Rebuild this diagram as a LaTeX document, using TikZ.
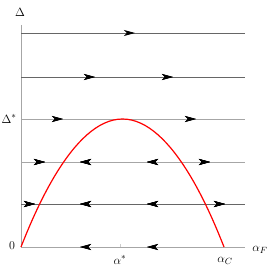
\documentclass[tikz,border=0pt]{standalone}
\usetikzlibrary{arrows.meta,decorations.markings}
\begin{document}
\begin{tikzpicture}[x=1pt,y=-1pt,
  flow/.style={line width=0.9pt},
  tipR/.style={decoration={markings,mark=at position #1 with {\arrow[black]{Stealth[length=11pt,width=6pt,inset=3pt]}}},postaction={decorate}},
  tipL/.style={decoration={markings,mark=at position #1 with {\arrowreversed[black]{Stealth[length=11pt,width=6pt,inset=3pt]}}},postaction={decorate}},
  lbl/.style={font=\fontsize{13}{15}\selectfont, inner sep=0pt}]
\useasboundingbox (0,0) rectangle (270,270);
% axis
\coordinate (top) at (21,25);
\coordinate (o) at (21,247);
\draw[gray!70, line width=0.8pt] (top) -- (o);
% horizontal flow lines
\foreach \n/\y in {a/33,b/77,c/119,d/162,e/204,f/247}{
  \coordinate (\n0) at (21,\y);
  \coordinate (\n1) at (245,\y);
}
\draw[flow, black!60, tipR=114pt] (a0) -- (a1);
\draw[flow, black!60, tipR=74pt, tipR=152pt] (b0) -- (b1);
\draw[flow, black!35, tipR=42pt, tipR=175pt] (c0) -- (c1);
\draw[flow, black!35, tipR=24pt, tipL=59pt, tipL=126pt, tipR=189pt] (d0) -- (d1);
\draw[flow, black!60, tipR=14pt, tipL=59pt, tipL=126pt, tipR=204pt] (e0) -- (e1);
\draw[flow, black!35, tipL=59pt, tipL=126pt] (f0) -- (f1);
% tick at alpha*
\draw[black!20, line width=0.6pt] (120,244) -- (120,247);
% red parabola
\coordinate (pk) at (122.5,119);
\coordinate (ac) at (224,247);
\draw[red, line width=1.2pt] (o) parabola bend (pk) (ac);
% labels
\node[lbl] (lD) at (20,12) {$\Delta$};
\node[lbl] (lDs) at (9,119) {$\Delta^{*}$};
\node[lbl] (l0) at (12,246) {$0$};
\node[lbl] (las) at (120,260) {$\alpha^{*}$};
\node[lbl] (laC) at (225,261) {$\alpha_{C}$};
\node[lbl] (laF) at (260,250) {$\alpha_{F}$};
\end{tikzpicture}
\end{document}
